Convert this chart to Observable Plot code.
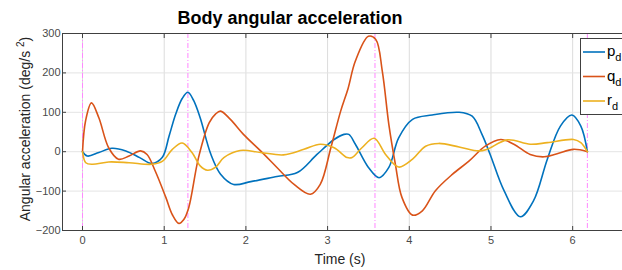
<!DOCTYPE html>
<html>
<head>
<meta charset="utf-8">
<script src="https://cdn.jsdelivr.net/npm/d3@7"></script>
<script src="https://cdn.jsdelivr.net/npm/@observablehq/plot@0.6"></script>
<style>
  html, body { margin: 0; padding: 0; background: #fff; }
  #chart { width: 622px; height: 270px; overflow: hidden; }
  svg { font-family: "Liberation Sans", Arial, sans-serif; }
</style>
</head>
<body>
<div id="chart"></div>
<script>
// ---- data ----
const pT = [0, 0.06, 0.2, 0.36, 0.53, 0.7, 0.85, 0.975, 1.06, 1.14, 1.22, 1.29, 1.36, 1.44, 1.57, 1.69, 1.85, 2.06, 2.38, 2.63, 2.87, 3.08, 3.2, 3.26, 3.34, 3.5, 3.63, 3.75, 3.87, 4.04, 4.28, 4.61, 4.77, 4.89, 4.99, 5.16, 5.36, 5.52, 5.69, 5.85, 5.99, 6.1, 6.18];
const pV = [0, -11, -2, 8.6, 2, -15, -30, -15, 40, 95, 135, 151, 130, 86, -6, -57, -83, -76, -63, -53, -7, 31, 44, 44, 19, -40, -66, -40, 35, 82, 93, 100, 90, 44, -7, -99, -165, -125, -19, 65, 93, 65, 0];

const qT = [0, 0.037, 0.11, 0.2, 0.32, 0.44, 0.57, 0.71, 0.79, 0.89, 1.02, 1.1, 1.18, 1.24, 1.3, 1.42, 1.55, 1.63, 1.69, 1.81, 1.97, 2.18, 2.38, 2.59, 2.79, 2.91, 3.04, 3.16, 3.25, 3.34, 3.5, 3.59, 3.67, 3.75, 3.83, 3.91, 4.04, 4.16, 4.32, 4.53, 4.73, 4.93, 5.12, 5.28, 5.48, 5.65, 5.81, 6.01, 6.18];
const qV = [0, 78, 124, 86, 10, -19, -11, 2, -7, -49, -116, -160, -182, -172, -142, -15, 73, 96, 103, 82, 44, 2, -40, -83, -108, -83, 10, 103, 160, 230, 293, 285, 204, 69, -32, -116, -161, -150, -99, -57, -24, 14, 31, 19, -7, -13, -5, 6, 0];

const rT = [0, 0.04, 0.12, 0.32, 0.57, 0.85, 0.98, 1.1, 1.22, 1.34, 1.44, 1.53, 1.63, 1.73, 1.93, 2.18, 2.46, 2.71, 2.91, 3.08, 3.24, 3.3, 3.42, 3.57, 3.71, 3.87, 4.04, 4.2, 4.36, 4.61, 4.85, 4.95, 5.2, 5.48, 5.69, 6.01, 6.1, 6.18];
const rV = [0, -28, -32, -26, -28, -32, -24, 6, 22, -2, -36, -47, -39, -15, 3, -2, -8, 6, 19, 10, -15, -15, 10, 34, -7, -39, -19, 14, 21, 12, 2, 6, 30, 19, 23, 31, 23, 0];

const waypoints = [0, 1.29, 3.58, 6.18];
const xTicks = [0, 1, 2, 3, 4, 5, 6];
const yTicks = [-200, -100, 0, 100, 200, 300];

const seriesNames = ["p", "q", "r"];
const seriesColors = ["#0072BD", "#D95319", "#EDB120"];

const rows = [
  ...pT.map((t, i) => ({t, v: pV[i], s: "p"})),
  ...qT.map((t, i) => ({t, v: qV[i], s: "q"})),
  ...rT.map((t, i) => ({t, v: rV[i], s: "r"}))
];

const W = 622, H = 270;
const plot = Plot.plot({
  width: W, height: H,
  marginLeft: 62, marginRight: 0, marginTop: 33, marginBottom: 40,
  style: {fontFamily: "Liberation Sans, Arial, sans-serif", background: "#fff"},
  x: {domain: [-0.245, 6.61]},
  y: {domain: [-200, 300]},
  color: {domain: seriesNames, range: seriesColors},
  marks: [
    Plot.gridX(xTicks, {stroke: "#dcdcdc", strokeOpacity: 1, strokeWidth: 1}),
    Plot.gridY(yTicks, {stroke: "#e4e4e4", strokeOpacity: 1, strokeWidth: 1}),
    Plot.ruleX(waypoints, {stroke: "#ff88ff", strokeWidth: 1, strokeDasharray: "5,2,1,2"}),
    Plot.line(rows, {x: "t", y: "v", z: "s", stroke: "s", strokeWidth: 1.6, curve: "catmull-rom"}),
    Plot.axisX(xTicks, {anchor: "bottom", tickSize: -4, tickPadding: 10, fontSize: 11, fill: "#4a4a4a", stroke: "#404040", label: null}),
    Plot.axisX(xTicks, {anchor: "top", tickSize: -4, tickFormat: () => "", stroke: "#404040", label: null}),
    Plot.axisY(yTicks, {anchor: "left", tickSize: -4, tickPadding: 6, fontSize: 11, fill: "#4a4a4a", stroke: "#404040", label: null}),
    Plot.frame({anchor: "left", stroke: "#404040"}),
    Plot.frame({anchor: "bottom", stroke: "#404040"}),
    Plot.frame({anchor: "top", stroke: "#404040"})
  ]
});
document.getElementById("chart").appendChild(plot);

const svg = d3.select(plot);
// Title
svg.append("text").attr("x", 290).attr("y", 24).attr("text-anchor", "middle")
  .attr("font-size", 18).attr("font-weight", "bold").attr("fill", "#000")
  .text("Body angular acceleration");
// x label
svg.append("text").attr("x", 340).attr("y", 264).attr("text-anchor", "middle")
  .attr("font-size", 14).attr("fill", "#262626").text("Time (s)");
// y label
const yl = svg.append("text").attr("transform", "translate(30,129) rotate(-90)")
  .attr("text-anchor", "middle").attr("font-size", 14).attr("fill", "#262626");
yl.append("tspan").text("Angular acceleration (deg/s ");
yl.append("tspan").attr("font-size", 10).attr("dy", -6).text("2");
yl.append("tspan").attr("dy", 6).text(")");

// Legend
const lg = svg.append("g").attr("text-anchor", "start");
lg.append("rect").attr("x", 580.5).attr("y", 38.5).attr("width", 60).attr("height", 76)
  .attr("fill", "#fff").attr("stroke", "#404040").attr("stroke-width", 1);
const ly = [52, 76.5, 101];
seriesNames.forEach((n, i) => {
  lg.append("line").attr("x1", 583).attr("x2", 605).attr("y1", ly[i]).attr("y2", ly[i])
    .attr("stroke", seriesColors[i]).attr("stroke-width", 1.6);
  const t = lg.append("text").attr("x", 607).attr("y", ly[i] + 4).attr("text-anchor", "start")
    .attr("font-size", 15).attr("fill", "#000");
  t.append("tspan").text(n);
  t.append("tspan").attr("font-size", 11).attr("dy", 5).text("d");
});
</script>
</body>
</html>
